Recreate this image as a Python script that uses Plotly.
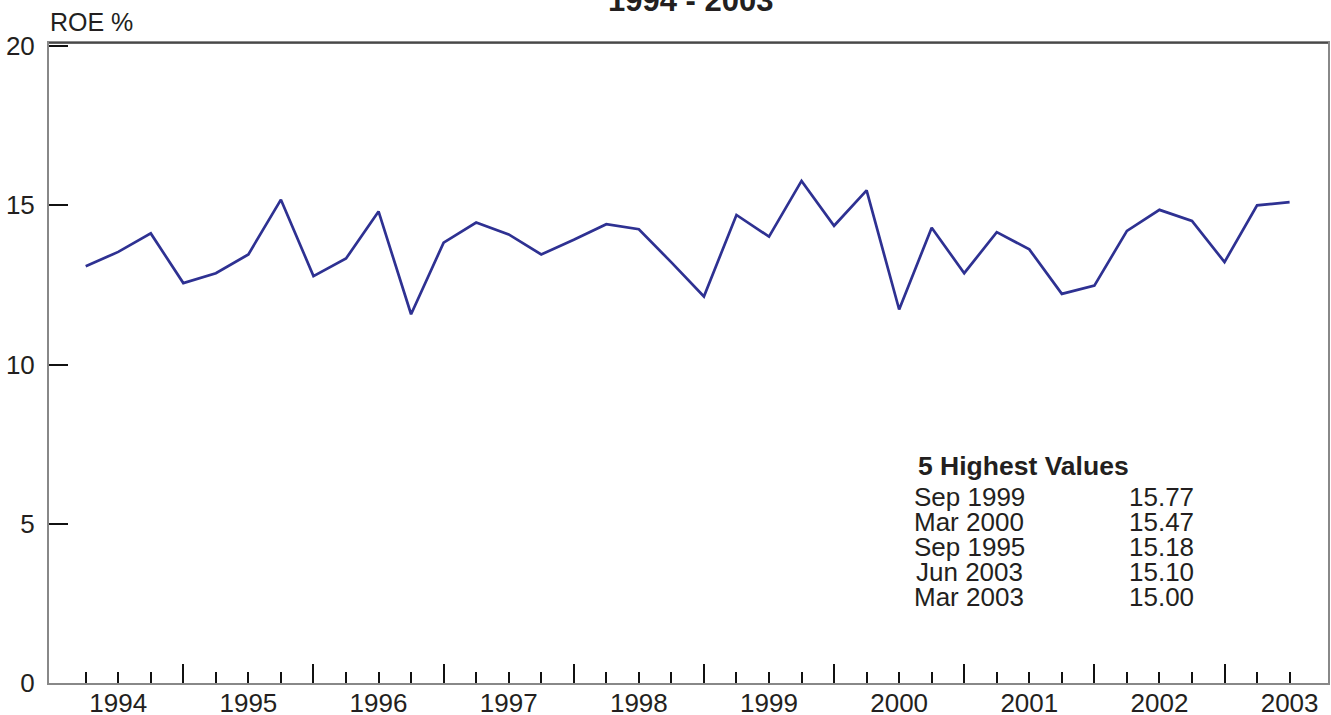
import plotly.graph_objects as go

# ---- data ----
quarters = [
    "Mar 1994", "Jun 1994", "Sep 1994", "Dec 1994",
    "Mar 1995", "Jun 1995", "Sep 1995", "Dec 1995",
    "Mar 1996", "Jun 1996", "Sep 1996", "Dec 1996",
    "Mar 1997", "Jun 1997", "Sep 1997", "Dec 1997",
    "Mar 1998", "Jun 1998", "Sep 1998", "Dec 1998",
    "Mar 1999", "Jun 1999", "Sep 1999", "Dec 1999",
    "Mar 2000", "Jun 2000", "Sep 2000", "Dec 2000",
    "Mar 2001", "Jun 2001", "Sep 2001", "Dec 2001",
    "Mar 2002", "Jun 2002", "Sep 2002", "Dec 2002",
    "Mar 2003", "Jun 2003",
]
roe = [
    13.09, 13.54, 14.12, 12.56,
    12.87, 13.46, 15.18, 12.78,
    13.33, 14.81, 11.58, 13.83,
    14.46, 14.09, 13.46, 13.92,
    14.41, 14.25, 13.21, 12.14,
    14.70, 14.02, 15.77, 14.36,
    15.47, 11.73, 14.30, 12.87,
    14.16, 13.62, 12.22, 12.48,
    14.20, 14.86, 14.51, 13.22,
    15.00, 15.10,
]
year_labels = ["1994", "1995", "1996", "1997", "1998",
               "1999", "2000", "2001", "2002", "2003"]
y_ticks = [0, 5, 10, 15, 20]
chart_title = "1994 - 2003"
y_title = "ROE %"
table_title = "5 Highest Values"

# ---- derived positions (quarter index axis) ----
xs = list(range(len(quarters)))
year_pos = [quarters.index("Jun " + y) for y in year_labels]
dec_pos = [i for i, q in enumerate(quarters) if q.startswith("Dec")]
top5 = sorted(zip(roe, quarters), reverse=True)[:5]

FONT = "Liberation Sans, Arial, Helvetica, sans-serif"
TXT = "#231f20"
W, H = 1331, 715
L, R, T, B = 49, 3, 43, 32
PW, PH = W - L - R, H - T - B


def px(x):
    return (x - L) / PW


def py(y):
    return (H - B - y) / PH


fig = go.Figure()
fig.add_trace(go.Scatter(
    x=xs, y=roe, mode="lines",
    line=dict(color="#2e3192", width=2.7),
    showlegend=False, hoverinfo="skip",
))
# invisible trace for the label axis
fig.add_trace(go.Scatter(x=[xs[0]], y=[roe[0]], xaxis="x2", mode="markers",
                         marker=dict(opacity=0), showlegend=False, hoverinfo="skip"))

xr = [-1.128, 38.18]
fig.update_layout(
    template="none",
    width=W, height=H,
    margin=dict(l=L, r=R, t=T, b=B, autoexpand=False),
    paper_bgcolor="white", plot_bgcolor="white",
    font=dict(family=FONT, color=TXT, size=26),
    xaxis=dict(
        range=xr, showgrid=False, zeroline=False, automargin=False,
        showline=True, linecolor="#888", linewidth=2, mirror=True,
        tickmode="array", tickvals=dec_pos, ticks="inside",
        ticklen=19, tickwidth=2, tickcolor="#111", showticklabels=False,
        minor=dict(tickmode="array", tickvals=xs, ticks="inside",
                   ticklen=11, tickwidth=2, tickcolor="#111", showgrid=False),
    ),
    xaxis2=dict(
        range=xr, overlaying="x", side="bottom", anchor="y", automargin=False,
        showgrid=False, zeroline=False, showline=False,
        tickmode="array", tickvals=year_pos, ticktext=year_labels,
        ticks="", tickfont=dict(size=26, color=TXT), ticklabelstandoff=2,
    ),
    yaxis=dict(
        range=[0, 20.1], showgrid=False, zeroline=False, automargin=False,
        showline=True, linecolor="#888", linewidth=2, mirror=True,
        tickmode="array", tickvals=y_ticks, ticks="inside",
        ticklen=19, tickwidth=2, tickcolor="#111",
        tickfont=dict(size=26, color=TXT), ticklabelstandoff=7,
    ),
)

fig.add_shape(type="line", xref="paper", yref="paper", x0=0, x1=1, y0=1, y1=1,
              line=dict(color="#333", width=1.5))

ann = [
    dict(text="<b>" + chart_title + "</b>", x=px(690), y=py(0.5),
         xanchor="center", yanchor="middle", font=dict(size=31)),
    dict(text=y_title, x=px(48), y=py(22), xanchor="left", yanchor="middle",
         font=dict(size=25)),
    dict(text="<b>" + table_title + "</b>", x=px(916), y=py(466),
         xanchor="left", yanchor="middle", font=dict(size=26.5)),
]
for i, (v, q) in enumerate(top5):
    yy = py(497 + 25 * i)
    ann.append(dict(text=q, x=px(969), y=yy, xanchor="center", yanchor="middle",
                    font=dict(size=26)))
    ann.append(dict(text=f"{v:.2f}", x=px(1196), y=yy, xanchor="right",
                    yanchor="middle", font=dict(size=26)))
for a in ann:
    a.update(xref="paper", yref="paper", showarrow=False)
    a.setdefault("font", {})
    a["font"].setdefault("color", TXT)
    a["font"].setdefault("family", FONT)
fig.update_layout(annotations=ann)

fig.write_html(
    "out.html",
    config={"displayModeBar": False},
    post_script="document.body.style.margin='0';document.body.style.overflow='hidden';",
)
